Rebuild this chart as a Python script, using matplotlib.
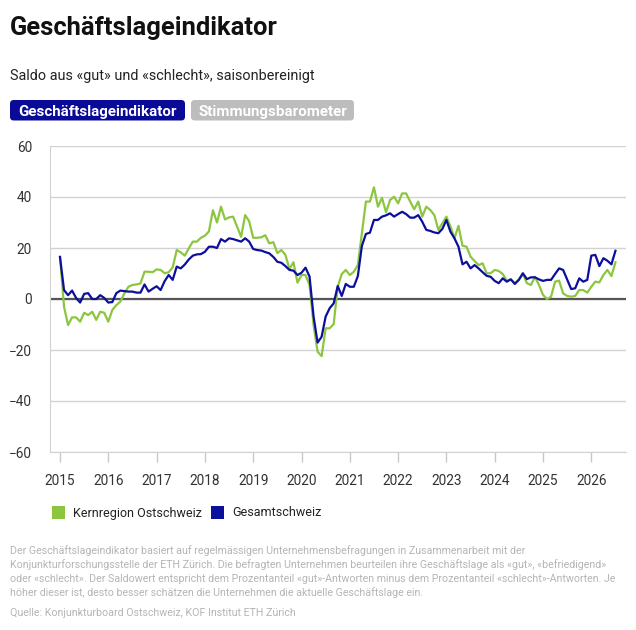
import numpy as np
import matplotlib.pyplot as plt
from matplotlib.patches import FancyBboxPatch, Rectangle

plt.rcParams['font.family'] = ['Roboto', 'DejaVu Sans']

# monthly balance values, Jan 2015 .. Jul 2026
kernregion = [
    16.5, -3, -10.2, -7.2, -7.2, -8.9, -5.4, -6.3, -5, -8.2, -5, -5.4,
    -8.9, -4.3, -2.4, -1, 2.2, 4.8, 5.5, 5.7, 6.1, 10.7, 10.7, 10.5,
    11.6, 11.4, 10.1, 10.5, 12.4, 19.2, 18.3, 17, 19.9, 22.5, 22.5, 24,
    24.8, 26.5, 34.8, 30, 36.2, 31.2, 32, 32.3, 28.4, 24.4, 32.9, 30.5,
    24, 24, 24.2, 25, 21.8, 22.3, 18, 19.2, 17.3, 11.8, 14.4, 6.4,
    9.4, 9.4, 5.5, -10.2, -20.7, -22.4, -11.5, -11.5, -9.8, 4.8, 9.8, 11.4,
    9.4, 10.7, 13.3, 25.8, 38.2, 38.2, 43.8, 36.2, 39.7, 34, 38.8, 40.1,
    37.5, 41.4, 41.4, 38.2, 35.2, 38.2, 32.3, 36.2, 34.9, 32.9, 27.1, 29.7,
    32.3, 28.5, 23.8, 28.7, 20.9, 20.5, 16.6, 14.9, 13.3, 14, 10.1, 10.1,
    11.4, 11, 9.8, 7.2, 7.7, 6.2, 7.7, 9.8, 6.2, 5.5, 8.7, 5.5,
    1.6, 0, 0.9, 6.8, 7.2, 2.2, 1.2, 0.9, 1.2, 3.5, 3.5, 2.5,
    4.8, 6.8, 6.5, 9.4, 11.4, 9, 14.4,
]
gesamt = [
    16.5, 3.5, 1.5, 3.3, 0.4, -1.4, 2, 2.3, 0, 0, 1.5, 0.4,
    -1.4, -1.2, 2.3, 3.3, 3.1, 2.9, 2.9, 2.5, 2.5, 5.7, 2.9, 4,
    5, 3.5, 7, 9.4, 7.5, 12.7, 12, 13.5, 15.5, 17, 17.5, 17.6,
    18.5, 20.5, 20.5, 20, 23.5, 22.5, 23.8, 23.5, 23, 22.5, 23.8, 22.5,
    19.6, 19.2, 19, 18.4, 17.9, 16.5, 14.6, 14.2, 12.9, 11.4, 11.1, 9.4,
    10.3, 12.3, 8.8, -6.9, -17.1, -14.8, -6.9, -3.6, -1.7, 5.1, 1.2, 5.9,
    4.8, 4.8, 9, 20.8, 25.5, 26, 31, 31, 32.3, 32.8, 33.6, 32.3,
    33.3, 34.2, 33.3, 31.9, 31.9, 32.9, 30.3, 27.1, 26.7, 26.1, 25.8, 27.5,
    31, 26.4, 23.8, 20.5, 13.6, 14.6, 12, 13.3, 12, 10.5, 9.1, 8.7,
    7.1, 6.2, 8.1, 6.8, 7.7, 5.9, 7.5, 10.1, 7.8, 8.5, 8.5, 7.7,
    7.1, 7.5, 7.5, 9.8, 12, 11.4, 7.7, 3.9, 4.2, 8.1, 6.8, 7.5,
    17, 17.3, 12.9, 16, 15, 13.6, 18.9,
]
years = list(range(2015, 2027))
yticks = [60, 40, 20, 0, -20, -40, -60]

t = 2015 + np.arange(len(gesamt)) / 12

GREEN = '#8cc63f'
BLUE = '#0b0f9c'
GRID = '#d2d2d2'

W, H = 636, 630
def fx(x):
    return x / W
def fy(y):
    return 1 - y / H

fig = plt.figure(figsize=(W / 100, H / 100), dpi=100)
ax = fig.add_axes([fx(50), fy(452), fx(626) - fx(50), fy(146) - fy(452)])

ax.plot(t, kernregion, color=GREEN, lw=1.6, zorder=3)
ax.plot(t, gesamt, color=BLUE, lw=1.6, zorder=4)
ax.axhline(0, color='#555555', lw=1.6, zorder=2)

ax.set_xlim(2015 - 10 / 48.3, 2015 + 566 / 48.3)
ax.set_ylim(-60, 60)
ax.set_yticks(yticks)
ax.set_yticklabels([str(v).replace('-', '\u2212') for v in yticks])
ax.set_xticks(years)
ax.set_xticklabels([str(y) for y in years])
ax.grid(axis='y', color=GRID, lw=1.0, zorder=1)
ax.tick_params(axis='y', length=0, pad=13, labelsize=9.8, labelcolor='#333333')
ax.tick_params(axis='x', length=7, width=1, color='#c8c8c8', pad=9,
               labelsize=9.8, labelcolor='#333333')
for s in ['top', 'right']:
    ax.spines[s].set_visible(False)
ax.spines['bottom'].set_color(GRID)
ax.spines['left'].set_color(GRID)

# title block
fig.text(fx(10), fy(35), 'Geschäftslageindikator', fontsize=18.4, weight='bold',
         color='#111111', va='baseline')
fig.text(fx(10), fy(80), 'Saldo aus «gut» und «schlecht», saisonbereinigt',
         fontsize=10.4, color='#222222', va='baseline')

# toggle buttons
for x0, x1, fc, label in [(10, 185, '#0a0a99', 'Geschäftslageindikator'),
                          (191, 354, '#bdbdbd', 'Stimmungsbarometer')]:
    fig.add_artist(FancyBboxPatch((fx(x0), fy(120.5)), fx(x1) - fx(x0),
                                  fy(100) - fy(120.5),
                                  boxstyle='round,pad=0,rounding_size=0.006',
                                  transform=fig.transFigure, fc=fc, ec='none'))
    fig.text(fx((x0 + x1) / 2), fy(116), label, fontsize=10.9, weight='bold',
             color='white', ha='center', va='baseline')

# legend
for x0, col, label in [(52, GREEN, 'Kernregion Ostschweiz'),
                       (211, BLUE, 'Gesamtschweiz')]:
    fig.add_artist(Rectangle((fx(x0), fy(518.5)), fx(13), 13 / H,
                             transform=fig.transFigure, fc=col, ec='none'))
    fig.text(fx(x0 + 21), fy(516.5), label, fontsize=9, color='#222222',
             va='baseline')

# footnote
note = [
    'Der Geschäftslageindikator basiert auf regelmässigen Unternehmensbefragungen in Zusammenarbeit mit der',
    'Konjunkturforschungsstelle der ETH Zürich. Die befragten Unternehmen beurteilen ihre Geschäftslage als «gut», «befriedigend»',
    'oder «schlecht». Der Saldowert entspricht dem Prozentanteil «gut»-Antworten minus dem Prozentanteil «schlecht»-Antworten. Je',
    'höher dieser ist, desto besser schätzen die Unternehmen die aktuelle Geschäftslage ein.',
]
for k, line in enumerate(note):
    fig.text(fx(10), fy(554 + 14 * k), line, fontsize=7.7, color='#b5b5b5',
             va='baseline')
fig.text(fx(10), fy(616), 'Quelle: Konjunkturboard Ostschweiz, KOF Institut ETH Zürich',
         fontsize=7.7, color='#b5b5b5', va='baseline')

fig.savefig('out.png', dpi=100, facecolor='white')
